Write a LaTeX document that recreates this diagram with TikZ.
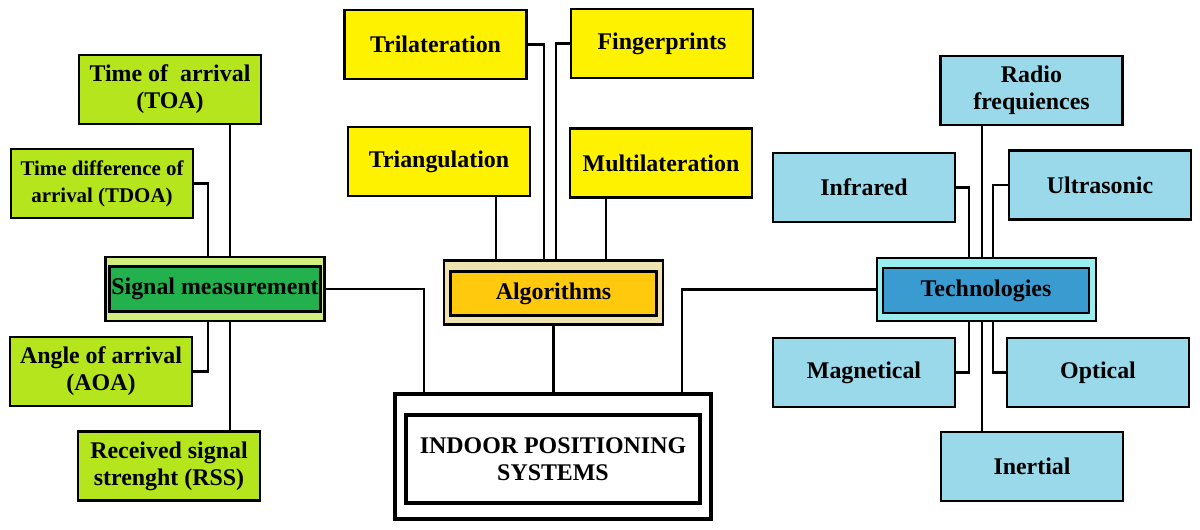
\documentclass[tikz,border=0pt]{standalone}
\usepackage{fontspec}
\setmainfont{Liberation Serif}
\definecolor{lime}{HTML}{B5E61D}
\definecolor{limepale}{HTML}{D2EE7C}
\definecolor{leafgreen}{HTML}{22B14C}
\definecolor{algyellow}{HTML}{FFF200}
\definecolor{algcream}{HTML}{EFE4B0}
\definecolor{algorange}{HTML}{FFC90E}
\definecolor{techblue}{HTML}{99D9EA}
\definecolor{techcyan}{HTML}{99EEF0}
\definecolor{techdark}{HTML}{3A9BD0}

\begin{document}
\begin{tikzpicture}[line width=1.5pt,
  box/.style={draw,line width=1.6pt,minimum width=3.64cm,minimum height=1.38cm,
    inner sep=1pt,align=center,font=\bfseries\fontsize{13.6}{15.5}\selectfont},
  hubout/.style={draw,line width=1.6pt,minimum width=4.38cm,minimum height=1.28cm,inner sep=0pt},
  hubin/.style={box,minimum width=4.12cm,minimum height=0.9cm}]
\useasboundingbox (0,0) rectangle (24,10.58);
% bus positions
\coordinate (lb1) at (4.16,0);
\coordinate (lb2) at (4.60,0);
\coordinate (cb1) at (10.88,0);
\coordinate (cb2) at (11.12,0);
\coordinate (cbl) at (9.92,0);
\coordinate (cbr) at (12.12,0);
\coordinate (rb1) at (19.38,0);
\coordinate (rb2) at (19.64,0);
\coordinate (rb3) at (19.86,0);
\coordinate (ipsl) at (8.48,0);
\coordinate (ipsr) at (13.64,0);
% ================= centre: indoor positioning systems =================
\node[draw,line width=2.8pt,minimum width=6.32cm,minimum height=2.5cm] (ips) at (11.06,1.45) {};
\node[draw,line width=2pt,minimum width=5.88cm,minimum height=1.76cm,align=center,
  font=\bfseries\fontsize{13.6}{15.5}\selectfont] (ipsin) at (11.06,1.40) {INDOOR POSITIONING\\SYSTEMS};
% ================= signal measurement =================
\node[hubout,fill=limepale] (sig) at (4.30,4.80) {};
\node[hubin,fill=leafgreen] (sigin) at (4.30,4.80) {Signal measurement};
\node[box,fill=lime] (toa) at (3.40,8.79) {Time of~ arrival\\(TOA)};
\node[box,fill=lime,font=\bfseries\fontsize{11.9}{15.5}\selectfont] (tdoa) at (2.04,6.91) {Time difference of\\arrival (TDOA)};
\node[box,fill=lime] (aoa) at (2.02,3.15) {Angle of arrival\\(AOA)};
\node[box,fill=lime] (rss) at (3.38,1.26) {Received signal\\strenght (RSS)};
\draw (toa.south -| lb2) -- (sig.north -| lb2);
\draw (tdoa.east) -| (sig.north -| lb1);
\draw (aoa.east) -| (sig.south -| lb1);
\draw (rss.north -| lb2) -- (sig.south -| lb2);
% ================= algorithms =================
\node[hubout,fill=algcream] (alg) at (11.07,4.73) {};
\node[hubin,minimum height=0.88cm,fill=algorange] (algin) at (11.07,4.71) {Algorithms};
\node[box,fill=algyellow] (tril) at (8.71,9.69) {Trilateration};
\node[box,fill=algyellow] (fing) at (13.24,9.71) {Fingerprints};
\node[box,fill=algyellow] (triang) at (8.78,7.35) {Triangulation};
\node[box,fill=algyellow] (multi) at (13.22,7.32) {Multilateration};
\draw (tril.east) -| (alg.north -| cb1);
\draw (fing.west) -| (alg.north -| cb2);
\draw (triang.south -| cbl) -- (alg.north -| cbl);
\draw (multi.south -| cbr) -- (alg.north -| cbr);
% ================= technologies =================
\node[hubout,minimum height=1.26cm,fill=techcyan] (tech) at (19.73,4.79) {};
\node[hubin,fill=techdark] (techin) at (19.72,4.77) {Technologies};
\node[box,fill=techblue] (radio) at (20.63,8.77) {Radio\\frequiences};
\node[box,fill=techblue] (infr) at (17.28,6.83) {Infrared};
\node[box,fill=techblue] (ultra) at (22.00,6.88) {Ultrasonic};
\node[box,fill=techblue] (magn) at (17.28,3.13) {Magnetical};
\node[box,fill=techblue] (opt) at (21.96,3.13) {Optical};
\node[box,fill=techblue] (inert) at (20.64,1.25) {Inertial};
\draw (radio.south -| rb2) -- (tech.north -| rb2);
\draw (infr.east) -| (tech.north -| rb1);
\draw (ultra.west) -| (tech.north -| rb3);
\draw (magn.east) -| (tech.south -| rb1);
\draw (opt.west) -| (tech.south -| rb3);
\draw (inert.north -| rb2) -- (tech.south -| rb2);
% ================= links to the centre =================
\draw (sig.east) -| (ips.north -| ipsl);
\draw (alg.south) -- (ips.north -| alg.south);
\draw (tech.west) -| (ips.north -| ipsr);
\end{tikzpicture}
\end{document}
